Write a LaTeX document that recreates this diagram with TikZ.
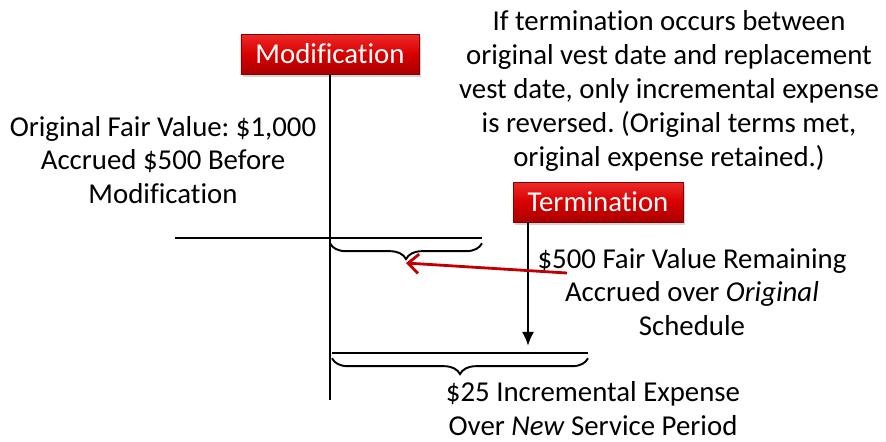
\documentclass[tikz,border=0pt]{standalone}
\usepackage{fontspec}
\setmainfont{Carlito}[Ligatures=CommonOff]
\usetikzlibrary{positioning, arrows.meta, calc, decorations.pathreplacing, shadows}
\definecolor{evtred}{HTML}{D80000}
\definecolor{evttop}{HTML}{EE2A2A}
\definecolor{evtbot}{HTML}{A80000}
\definecolor{evtline}{HTML}{C00000}
\frenchspacing

\begin{document}
\begin{tikzpicture}[x=0.02cm, y=-0.02cm,
    event/.style={rectangle, top color=evttop, bottom color=evtbot, middle color=evtred,
        draw=evtbot!80!black, line width=0.4pt, text=white, inner xsep=0.29cm,
        minimum height=0.8cm, font=\fontsize{16.4}{19.3}\selectfont,
        drop shadow={shadow xshift=1pt, shadow yshift=-1.5pt, opacity=0.35}},
    note/.style={align=center, font=\fontsize{16.4}{19.3}\selectfont, inner sep=0pt},
    axis/.style={line width=1.1pt, black},
    span/.style={line width=1.1pt, decorate,
        decoration={brace, mirror, amplitude=9pt, raise=3pt}},
    arr/.style={-{Latex[length=8pt, width=7pt]}, line width=1.6pt},
    redarr/.style={-{Straight Barb[length=6pt, width=11pt]}, line width=1.6pt, evtline},
]
\useasboundingbox (0,0) rectangle (886,441);

% ===== Events =====
\node[event] (mod) at (330,54) {Modification};
\node[event] (term) at (598,202) {Termination};

% ===== Timelines =====
\coordinate (modend) at (mod.south |- 0,400);
\draw[axis] (mod.south) -- (modend);

\coordinate (upl) at (175,238);
\coordinate (upr) at (482,238);
\draw[axis] (upl) -- (upr);

\coordinate (lol) at (332,353);
\coordinate (lor) at (588,353);
\draw[axis] (lol) -- (lor);

\coordinate (termtop) at (528,0 |- term.south);
\coordinate (termend) at (528,346);
\draw[arr] (termtop) -- (termend);

% ===== Braces =====
\coordinate (upbl) at (330,238);
\draw[span] (upbl) -- (upr);
\coordinate (uptip) at (406,263);

\draw[span] (lol) -- (lor);

% ===== Notes =====
\node[note] (cond) at (669,91)
  {If termination occurs between\\original vest date and replacement\\vest date, only incremental expense\\is reversed. (Original terms met,\\original expense retained.)};
\node[note] (orig) at (163,160)
  {Original Fair Value: \$1,000\\Accrued \$500 Before\\Modification};
\node[note] (remain) at (692,292)
  {\$500 Fair Value Remaining\\Accrued over \textit{Original}\\Schedule};
\node[note] (incr) at (593,409)
  {\$25 Incremental Expense\\Over \textit{New} Service Period};

% red pointer
\coordinate (ptr) at (567,273);
\draw[redarr] (ptr) -- (uptip);

\end{tikzpicture}
\end{document}
